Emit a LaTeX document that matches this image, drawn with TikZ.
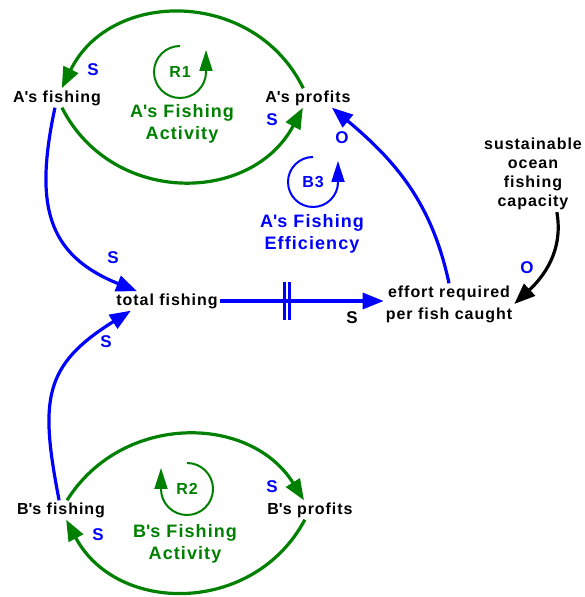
\documentclass[tikz,border=0pt]{standalone}
\usepackage{fontspec}
\setmainfont{Liberation Sans}[LetterSpace=6]
\usepackage{xcolor}
\usepackage{tikz}
\usetikzlibrary{arrows.meta}
\definecolor{loopgreen}{HTML}{008000}
\definecolor{linkblue}{HTML}{0000FF}
\newcommand{\ap}{\textquotesingle}

\begin{document}
\begin{tikzpicture}[x=1pt, y=1pt,
  var/.style={font=\bfseries\fontsize{16}{19}\selectfont, align=center, inner sep=2pt},
  loopname/.style={font=\bfseries\fontsize{18}{22}\selectfont, align=center, text=loopgreen, inner sep=0pt},
  loopid/.style={font=\bfseries\fontsize{16}{19}\selectfont, inner sep=0pt},
  polarity/.style={font=\bfseries\fontsize{17}{20}\selectfont, text=linkblue, inner sep=0pt},
  link/.style={line width=3.2pt, -{Triangle[length=21pt,width=16pt]}},
  loopmark/.style={line width=2pt, -{Triangle[length=21pt,width=13pt]}}]%
\useasboundingbox (0,0) rectangle (585,597);%
% variables
\node[var] (afish) at (57,499) {A\ap s fishing};%
\node[var] (aprof) at (308,499) {A\ap s profits};%
\node[var] (total) at (167,296) {total fishing};%
\node[var, font=\bfseries\fontsize{16}{22}\selectfont] (effort) at (449,293) {effort required\\per fish caught};%
\node[var] (capacity) at (533,423) {sustainable\\ocean\\fishing\\capacity};%
\node[var] (bfish) at (61,87) {B\ap s fishing};%
\node[var] (bprof) at (310,87) {B\ap s profits};%
% loop names
\node[loopid, text=loopgreen] (r1) at (180,525) {R1};%
\node[loopname] (aact) at (182,473) {A\ap s Fishing\\Activity};%
\node[loopid, text=linkblue] (b3) at (313,415) {B3};%
\node[loopname, text=linkblue] (aeff) at (312,363) {A\ap s Fishing\\Efficiency};%
\node[loopid, text=loopgreen] (r2) at (187,108) {R2};%
\node[loopname] (bact) at (185,53) {B\ap s Fishing\\Activity};%
\draw[loopmark, loopgreen] ([yshift=26pt]r1.center) arc[start angle=90, end angle=360, radius=26] -- ++(0,22);%
\draw[loopmark, linkblue] ([yshift=25pt]b3.center) arc[start angle=90, end angle=360, radius=25] -- ++(0,21);%
\draw[loopmark, loopgreen] ([yshift=26pt]r2.center) arc[start angle=90, end angle=-180, radius=26] -- ++(0,21);%
% links
\draw[link, loopgreen] (aprof) to[out=116, in=64, looseness=1.18] (afish);%
\draw[link, loopgreen] (afish) to[out=-63, in=242, looseness=1.17] (aprof);%
\draw[link, loopgreen] (bfish) to[out=58, in=122, looseness=1.11] (bprof);%
\draw[link, loopgreen] (bprof) to[out=242, in=-62, looseness=1.16] (bfish);%
\draw[link, linkblue] (afish) to[out=258, in=158, looseness=1.25] (total.162);%
\draw[link, linkblue] (bfish) to[out=101, in=212, looseness=1.3] (total.195);%
\draw[link, linkblue] (total) -- (total -| effort.west) coordinate[pos=0.41] (delay);%
\draw[linkblue, line width=2.6pt] ([xshift=-2.35pt, yshift=-19pt]delay) -- ++(0,38) ([xshift=2.35pt, yshift=-19pt]delay) -- ++(0,38);%
\draw[link, linkblue] (effort.north) to[out=102, in=-40] (aprof.-22);%
\draw[link] (capacity.-58) to[out=-80, in=43] (effort.east);%
% polarities
\node[polarity] (pa1) at (93,527) {S};%
\node[polarity] (pa2) at (272,477) {S};%
\node[polarity] (pt1) at (113,339) {S};%
\node[polarity] (pt2) at (106,255) {S};%
\node[polarity, text=black] (pe1) at (352,279) {S};%
\node[polarity] (pe2) at (342,459) {O};%
\node[polarity] (pe3) at (527,329) {O};%
\node[polarity] (pb1) at (272,110) {S};%
\node[polarity] (pb2) at (98,62) {S};%
\end{tikzpicture}
\end{document}
